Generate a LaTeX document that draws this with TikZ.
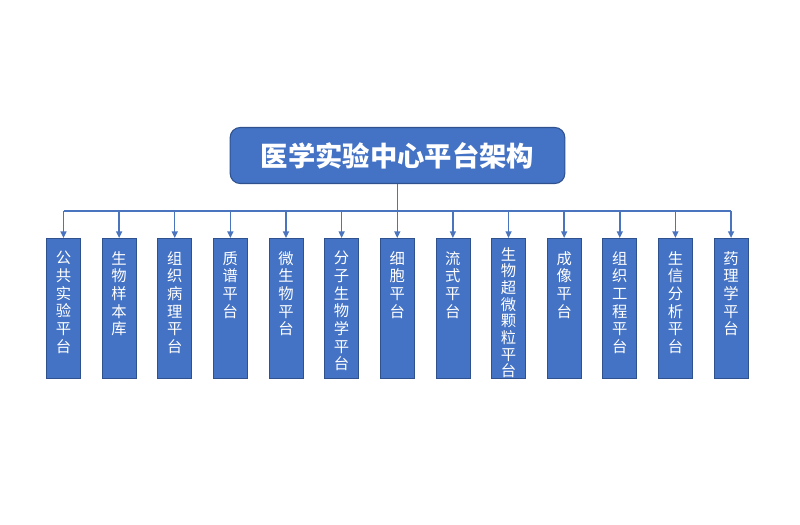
\documentclass[tikz,border=0pt]{standalone}
\usepackage{fontspec}
\newfontfamily\cjk{Noto Sans CJK SC}
\usetikzlibrary{arrows.meta}
\definecolor{boxblue}{HTML}{4472C4}
\definecolor{edgeblue}{HTML}{2F528F}
\definecolor{lineblue}{HTML}{4A74BE}
\tikzset{
  topbox/.style={draw=edgeblue,fill=boxblue,line width=0.8pt,rounded corners=7.5pt,
    minimum width=251pt,minimum height=42pt,text=white,
    font=\cjk\bfseries\fontsize{20.5}{24}\selectfont},
  platbox/.style={draw=edgeblue,fill=boxblue,line width=0.6pt,
    minimum width=25.5pt,minimum height=105pt,anchor=north,inner sep=0pt},
  plattext/.style={text=white,anchor=north,align=center,inner sep=0pt},
  link/.style={draw=lineblue,line width=1.1pt},
  arr/.style={link,-{Triangle[length=5pt,width=4.5pt]}}
}
\begin{document}
\begin{tikzpicture}[x=0.75pt,y=-0.75pt]
\useasboundingbox (0,0) rectangle (800,525);
% title
\node[topbox] (top) at (397.5,155.5) {医学实验中心平台架构};
\coordinate (bus) at (397.5,211);
\draw[link] (top.south) -- (bus);
% platforms: text / top of text / line pitch
\foreach \name/\ytop/\lead [count=\i] in {{公\\共\\实\\验\\平\\台}/251/13.25,
    {生\\物\\样\\本\\库}/251/13.25,{组\\织\\病\\理\\平\\台}/251/13.25,
    {质\\谱\\平\\台}/251/13.25,{微\\生\\物\\平\\台}/251/13.25,
    {分\\子\\生\\物\\学\\平\\台}/251/13.25,{细\\胞\\平\\台}/251/13.25,
    {流\\式\\平\\台}/251/13.25,{生\\物\\超\\微\\颗\\粒\\平\\台}/247/12.5,
    {成\\像\\平\\台}/251/13.25,{组\\织\\工\\程\\平\\台}/251/13.25,
    {生\\信\\分\\析\\平\\台}/251/13.25,{药\\理\\学\\平\\台}/251/13.25}{
  \node[platbox] (b\i) at ({63.5+55.63*(\i-1)},238) {};
  \node[plattext,font=\cjk\fontsize{11.5}{\lead}\selectfont] (t\i)
    at ({63.5+55.63*(\i-1)},\ytop) {\name};
  \draw[arr] (b\i.north|-bus) -- (b\i.north);
}
\draw[link] (b1.north|-bus) -- (b13.north|-bus);
\end{tikzpicture}
\end{document}
